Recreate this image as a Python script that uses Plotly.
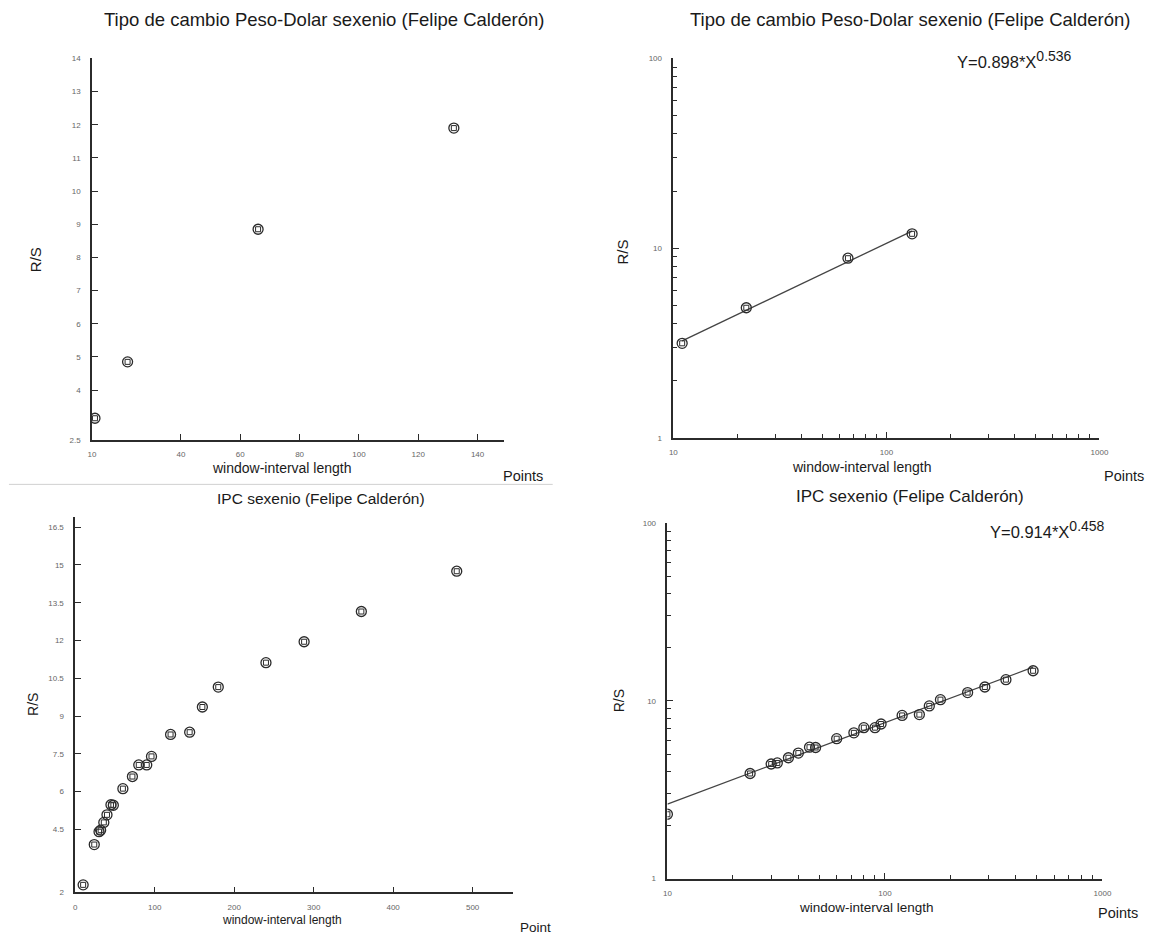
import numpy as np
import plotly.graph_objects as go

# ---------------- data ----------------
# Tipo de cambio Peso-Dolar (R/S analysis)
tc_window = [11, 22, 66, 132]
tc_rs = [3.15, 4.85, 8.85, 11.9]
tc_fit_a, tc_fit_h = 0.898, 0.536

# IPC (R/S analysis)
ipc_window = [10, 24, 30, 32, 36, 40, 45, 48, 60, 72, 80, 90, 96, 120, 144, 160, 180, 240, 288, 360, 480]
ipc_rs = [2.3, 3.9, 4.41, 4.47, 4.78, 5.08, 5.48, 5.46, 6.12, 6.6, 7.06, 7.06, 7.4, 8.27, 8.36, 9.36, 10.15, 11.12, 11.95, 13.15, 14.75]
ipc_fit_a, ipc_fit_h = 0.914, 0.458

tl_xticks = [10, 40, 60, 80, 100, 120, 140]
tl_yticks = [2.5, 4, 5, 6, 7, 8, 9, 10, 11, 12, 13, 14]
bl_xticks = [0, 100, 200, 300, 400, 500]
bl_yticks = [2, 4.5, 6, 7.5, 9, 10.5, 12, 13.5, 15, 16.5]
log_xticks = [10, 100, 1000]
log_yticks = [1, 10, 100]

W, H = 1149, 942
FONT = "Liberation Sans, Arial, sans-serif"
INK = "#2b2b2b"

def px(x):
    return x / W

def py(y):
    return 1 - y / H

fig = go.Figure()

def markers(x, y, xa, ya):
    fig.add_trace(go.Scatter(x=x, y=y, xaxis=xa, yaxis=ya, mode="markers",
                             marker=dict(symbol="circle-open", size=10, color=INK, line=dict(width=1.3)),
                             showlegend=False, hoverinfo="x+y"))
    fig.add_trace(go.Scatter(x=x, y=y, xaxis=xa, yaxis=ya, mode="markers",
                             marker=dict(symbol="square-open", size=5, color=INK, line=dict(width=1)),
                             showlegend=False, hoverinfo="skip"))

def fitline(x, a, h, xa, ya):
    xs = np.array([min(x), max(x)], dtype=float)
    fig.add_trace(go.Scatter(x=xs, y=a * xs ** h, xaxis=xa, yaxis=ya, mode="lines",
                             line=dict(color="#444444", width=1.3), showlegend=False, hoverinfo="skip"))

# top-left: linear
markers(tc_window, tc_rs, "x", "y")
# top-right: log-log with fit
fitline(tc_window, tc_fit_a, tc_fit_h, "x2", "y2")
markers(tc_window, tc_rs, "x2", "y2")
# bottom-left: linear
markers(ipc_window, ipc_rs, "x3", "y3")
# bottom-right: log-log with fit
fitline(ipc_window, ipc_fit_a, ipc_fit_h, "x4", "y4")
markers(ipc_window, ipc_rs, "x4", "y4")

tickfont = dict(family=FONT, size=8, color="#666666")
base = dict(showgrid=False, zeroline=False, showline=True, linecolor=INK, linewidth=1.5,
            ticks="inside", ticklen=6, tickwidth=1.2, tickcolor=INK, tickfont=tickfont, mirror=False)
xbase = dict(base, ticklabelstandoff=6)
ybase = dict(base, ticklabelstandoff=8)
minor = dict(ticks="inside", ticklen=4, tickcolor=INK, dtick="D1", showgrid=False)

def fmt(v):
    return ("%g" % v)

layout = dict(
    width=W, height=H, autosize=False,
    margin=dict(l=0, r=0, t=0, b=0),
    paper_bgcolor="white", plot_bgcolor="white",
    xaxis=dict(xbase, domain=[px(89), px(506)], range=[10, 149], tickvals=tl_xticks,
               ticktext=[fmt(v) for v in tl_xticks], anchor="y"),
    yaxis=dict(ybase, domain=[py(440), py(55)], range=[2.5, 14], tickvals=tl_yticks,
               ticktext=[fmt(v) for v in tl_yticks], anchor="x"),
    xaxis2=dict(xbase, type="log", domain=[px(677), px(1108)], range=[1, 3], tickvals=log_xticks,
                ticktext=[fmt(v) for v in log_xticks], anchor="y2", minor=minor),
    yaxis2=dict(ybase, type="log", domain=[py(438), py(55)], range=[0, 2], tickvals=log_yticks,
                ticktext=[fmt(v) for v in log_yticks], anchor="x2", minor=minor),
    xaxis3=dict(xbase, domain=[px(72), px(515)], range=[0, 551], tickvals=bl_xticks,
                ticktext=[fmt(v) for v in bl_xticks], anchor="y3"),
    yaxis3=dict(ybase, domain=[py(897), py(518)], range=[2, 16.9], tickvals=bl_yticks,
                ticktext=[fmt(v) for v in bl_yticks], anchor="x3"),
    xaxis4=dict(xbase, type="log", domain=[px(671), px(1111)], range=[1, 3], tickvals=log_xticks,
                ticktext=[fmt(v) for v in log_xticks], anchor="y4", minor=minor),
    yaxis4=dict(ybase, type="log", domain=[py(883), py(524)], range=[0, 2], tickvals=log_yticks,
                ticktext=[fmt(v) for v in log_yticks], anchor="x4", minor=minor),
)
fig.update_layout(**layout)

def text(s, x, y, size, xanchor="center", angle=0, color="#1a1a1a"):
    fig.add_annotation(text=s, x=px(x), y=py(y), xref="paper", yref="paper", showarrow=False,
                       xanchor=xanchor, yanchor="middle", textangle=angle,
                       font=dict(family=FONT, size=size, color=color))

title_tc = "Tipo de cambio Peso-Dolar sexenio (Felipe Calderón)"
title_ipc = "IPC sexenio (Felipe Calderón)"
xlab = "window-interval length"

# titles
text(title_tc, 324, 16, 18.5)
text(title_tc, 916, 16, 18.5)
text(title_ipc, 321, 499, 15.5)
text(title_ipc, 916, 497, 17)
# x-axis labels
text(xlab, 281, 468, 14)
text(xlab, 868, 467, 14)
text(xlab, 281, 925, 12)
text(xlab, 872, 912, 13.5)
# "Points"
text("Points", 525, 477, 14.5)
text("Points", 1133, 477, 14.5)
text("Point", 538, 932, 13.5)
text("Points", 1104, 918, 14.5, xanchor="left")
# R/S
text("R/S", 32, 258, 15, angle=-90)
text("R/S", 626, 250, 15, angle=-90)
text("R/S", 30, 707, 14, angle=-90)
text("R/S", 622, 703, 14, angle=-90)

# equations
def eq(a, h):
    return "Y=%.3f*X<sup><span style='font-size:14px'>%.3f</span></sup>" % (a, h)

text(eq(tc_fit_a, tc_fit_h), 1022, 56, 16.5)
text(eq(ipc_fit_a, ipc_fit_h), 1055, 531, 16.5)

# separator line between the left panels
fig.add_shape(type="line", xref="paper", yref="paper", x0=px(5), x1=px(555), y0=py(485), y1=py(485),
              line=dict(color="#d0d0d0", width=1))

fig.write_html("out.html")
